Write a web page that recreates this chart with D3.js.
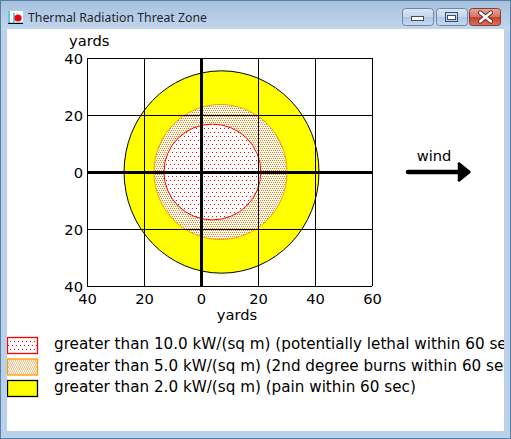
<!DOCTYPE html>
<html>
<head>
<meta charset="utf-8">
<script src="https://cdn.jsdelivr.net/npm/d3@7"></script>
<style>
  html, body { margin: 0; padding: 0; background: #fff; }
  svg { display: block; }
  text { font-family: "DejaVu Sans", Verdana, sans-serif; fill: #000; }
</style>
</head>
<body>
<svg id="chart" width="511" height="439"></svg>
<script>
// threat zones, outermost first (yards)
var zoneLabels = [
    'greater than 2.0 kW/(sq m) (pain within 60 sec)',
    'greater than 5.0 kW/(sq m) (2nd degree burns within 60 sec)',
    'greater than 10.0 kW/(sq m) (potentially lethal within 60 sec)'
];
var zoneDownwind = [41.4, 30.2, 21.0];
var zoneUpwind = [27.0, 16.5, 13.0];
var zoneCrosswind = [35.5, 23.7, 16.8];

var xTicks = [-40, -20, 0, 20, 40, 60];
var yTicks = [-40, -20, 0, 20, 40];
var xDomain = [-40, 60];
var yDomain = [-40, 40];

var svg = d3.select('#chart');
var defs = svg.append('defs');

// ---- window chrome ----
var grad = defs.append('linearGradient')
    .attr('id', 'titleGrad')
    .attr('x1', 0).attr('y1', 0).attr('x2', 0).attr('y2', 1);
grad.append('stop').attr('offset', '0%').attr('stop-color', '#a6c0df');
grad.append('stop').attr('offset', '100%').attr('stop-color', '#c3d7ec');

svg.append('rect')
    .attr('width', 511).attr('height', 439)
    .style('fill', '#b9d1ea');
svg.append('rect')
    .attr('width', 511).attr('height', 30)
    .style('fill', 'url(#titleGrad)');
svg.append('rect')
    .attr('x', 0.5).attr('y', 0.5).attr('width', 510).attr('height', 438)
    .style('fill', 'none')
    .style('stroke', '#5a7fa6')
    .style('stroke-width', 1);
svg.append('rect')
    .attr('x', 7).attr('y', 29).attr('width', 497).attr('height', 402)
    .style('fill', '#fff');

// title icon
var icon = svg.append('g').attr('transform', 'translate(8,11)');
icon.append('rect').attr('width', 15).attr('height', 13).style('fill', '#fff');
icon.append('path').attr('d', 'M1 0 V12 H15').style('stroke', '#00a0e0').style('fill', 'none').style('stroke-width', 1.2);
icon.append('path').attr('d', 'M6 2 V11').style('stroke', '#00a0e0').style('stroke-width', 1.2);
icon.append('circle').attr('cx', 10).attr('cy', 7).attr('r', 3.6).style('fill', '#f00010');
icon.append('path').attr('d', 'M0 12.5 H15').style('stroke', '#000').style('stroke-width', 1);

svg.append('text')
    .attr('x', 28).attr('y', 22)
    .text('Thermal Radiation Threat Zone')
    .style('font-family', '"Noto Sans", "Open Sans", sans-serif')
    .style('font-size', '12.3px')
    .style('fill', '#1e2530');

// caption buttons
var btnGrad = defs.append('linearGradient')
    .attr('id', 'btnGrad').attr('x1', 0).attr('y1', 0).attr('x2', 0).attr('y2', 1);
btnGrad.append('stop').attr('offset', '0%').attr('stop-color', '#dbe7f4');
btnGrad.append('stop').attr('offset', '50%').attr('stop-color', '#c4d6eb');
btnGrad.append('stop').attr('offset', '51%').attr('stop-color', '#afc6e2');
btnGrad.append('stop').attr('offset', '100%').attr('stop-color', '#c8dbef');
var closeGrad = defs.append('linearGradient')
    .attr('id', 'closeGrad').attr('x1', 0).attr('y1', 0).attr('x2', 0).attr('y2', 1);
closeGrad.append('stop').attr('offset', '0%').attr('stop-color', '#e9a99c');
closeGrad.append('stop').attr('offset', '50%').attr('stop-color', '#d7705e');
closeGrad.append('stop').attr('offset', '51%').attr('stop-color', '#c6402c');
closeGrad.append('stop').attr('offset', '100%').attr('stop-color', '#d8745a');

[[402, 'btnGrad'], [436, 'btnGrad'], [469, 'closeGrad']].forEach(function(b) {
    svg.append('rect')
        .attr('x', b[0] + 0.5).attr('y', 8.5)
        .attr('width', 31).attr('height', 17)
        .attr('rx', 3)
        .style('fill', 'url(#' + b[1] + ')')
        .style('stroke', b[1] === 'closeGrad' ? '#8a3a30' : '#6d87a8');
});
svg.append('rect').attr('x', 411.5).attr('y', 16.5).attr('width', 12).attr('height', 4)
    .style('fill', '#fff').style('stroke', '#3d4f66');
svg.append('rect').attr('x', 445.5).attr('y', 12.5).attr('width', 12).attr('height', 9)
    .style('fill', 'none').style('stroke', '#3d4f66').style('stroke-width', 1);
svg.append('rect').attr('x', 447.5).attr('y', 15.5).attr('width', 8).attr('height', 4)
    .style('fill', '#fff').style('stroke', '#3d4f66').style('stroke-width', 1);
svg.append('path').attr('d', 'M480 12.5 L491 21.5 M491 12.5 L480 21.5')
    .style('stroke', '#5a2a24').style('stroke-width', 4.2).style('stroke-linecap', 'round');
svg.append('path').attr('d', 'M480 12.5 L491 21.5 M491 12.5 L480 21.5')
    .style('stroke', '#fff').style('stroke-width', 2.4).style('stroke-linecap', 'round');

// ---- fill patterns ----
var redPat = defs.append('pattern')
    .attr('id', 'redDots').attr('patternUnits', 'userSpaceOnUse')
    .attr('width', 4).attr('height', 8);
redPat.append('rect').attr('width', 4).attr('height', 8).style('fill', '#fff');
redPat.append('rect').attr('x', 0).attr('y', 0).attr('width', 1).attr('height', 1).style('fill', '#ff0000');
redPat.append('rect').attr('x', 2).attr('y', 4).attr('width', 1).attr('height', 1).style('fill', '#ff0000');

var orangePat = defs.append('pattern')
    .attr('id', 'orangeDots').attr('patternUnits', 'userSpaceOnUse')
    .attr('width', 2).attr('height', 4);
orangePat.append('rect').attr('width', 2).attr('height', 4).style('fill', '#fff');
orangePat.append('rect').attr('x', 0).attr('y', 0).attr('width', 1).attr('height', 1).style('fill', '#f07f00');
orangePat.append('rect').attr('x', 1).attr('y', 2).attr('width', 1).attr('height', 1).style('fill', '#f07f00');

var zoneFill = ['#ffff00', 'url(#orangeDots)', 'url(#redDots)'];
var zoneStroke = ['#000', '#ff9900', '#ff0000'];

// ---- plot ----
var plot = { left: 87, right: 372, top: 58, bottom: 286 };
var x = d3.scaleLinear().domain(xDomain).range([plot.left, plot.right]);
var y = d3.scaleLinear().domain(yDomain).range([plot.bottom, plot.top]);

var zones = zoneLabels.map(function(label, i) {
    return {
        label: label,
        cx: (zoneDownwind[i] - zoneUpwind[i]) / 2,
        rx: (zoneDownwind[i] + zoneUpwind[i]) / 2,
        ry: zoneCrosswind[i],
        fill: zoneFill[i],
        stroke: zoneStroke[i]
    };
});

svg.append('g')
    .selectAll('ellipse')
    .data(zones)
    .enter()
    .append('ellipse')
    .attr('cx', function(d) { return x(d.cx); })
    .attr('cy', y(0))
    .attr('rx', function(d) { return x(d.rx) - x(0); })
    .attr('ry', function(d) { return y(0) - y(d.ry); })
    .style('fill', function(d) { return d.fill; })
    .style('stroke', function(d) { return d.stroke; })
    .style('stroke-width', 1);

// grid
var grid = svg.append('g').style('shape-rendering', 'crispEdges');
grid.selectAll('.vgrid')
    .data(xTicks)
    .enter()
    .append('line')
    .attr('x1', function(d) { return Math.round(x(d)) + 0.5; })
    .attr('x2', function(d) { return Math.round(x(d)) + 0.5; })
    .attr('y1', y(yDomain[1]))
    .attr('y2', y(yDomain[0]))
    .style('stroke', '#000')
    .style('stroke-width', function(d) { return d === 0 ? 3 : 1; });
grid.selectAll('.hgrid')
    .data(yTicks)
    .enter()
    .append('line')
    .attr('x1', x(xDomain[0]))
    .attr('x2', x(xDomain[1]))
    .attr('y1', function(d) { return Math.round(y(d)) + 0.5; })
    .attr('y2', function(d) { return Math.round(y(d)) + 0.5; })
    .style('stroke', '#000')
    .style('stroke-width', function(d) { return d === 0 ? 3 : 1; });

// tick labels via axes
var xAxis = d3.axisBottom(x)
    .tickValues(xTicks)
    .tickSize(0)
    .tickPadding(0)
    .tickFormat(function(d) { return Math.abs(d); });
var xAxisG = svg.append('g')
    .attr('transform', 'translate(0,' + plot.bottom + ')')
    .call(xAxis);
xAxisG.select('.domain').remove();
xAxisG.selectAll('text')
    .attr('y', 18)
    .attr('dy', 0)
    .style('font-size', '14.7px')
    .style('font-family', '"DejaVu Sans", Verdana, sans-serif')
    .style('fill', '#000');

var yAxis = d3.axisLeft(y)
    .tickValues(yTicks)
    .tickSize(0)
    .tickPadding(4)
    .tickFormat(function(d) { return Math.abs(d); });
var yAxisG = svg.append('g')
    .attr('transform', 'translate(' + plot.left + ',0)')
    .call(yAxis);
yAxisG.select('.domain').remove();
yAxisG.selectAll('text')
    .attr('dy', '0.36em')
    .style('font-size', '14.7px')
    .style('font-family', '"DejaVu Sans", Verdana, sans-serif')
    .style('fill', '#000');

svg.append('text')
    .attr('x', 69).attr('y', 46)
    .text('yards')
    .style('font-size', '14.7px');
svg.append('text')
    .attr('x', 237).attr('y', 320)
    .attr('text-anchor', 'middle')
    .text('yards')
    .style('font-size', '14.7px');

// wind arrow
var windY = y(0);
svg.append('text')
    .attr('x', 434).attr('y', windY - 11)
    .attr('text-anchor', 'middle')
    .text('wind')
    .style('font-size', '14.7px');
svg.append('path')
    .attr('d', 'M408 ' + windY + ' H460')
    .style('stroke', '#000')
    .style('stroke-width', 4.5)
    .style('stroke-linecap', 'round');
svg.append('path')
    .attr('d', 'M459 ' + (windY - 8.5) + ' L469.5 ' + windY + ' L459 ' + (windY + 8.5) + ' Z')
    .style('fill', '#000')
    .style('stroke', '#000')
    .style('stroke-width', 2.5)
    .style('stroke-linejoin', 'round');

// legend, innermost zone first (window edge cuts the long lines, as in the original)
var legend = svg.append('g')
    .attr('clip-path', 'url(#clientClip)');
defs.append('clipPath').attr('id', 'clientClip')
    .append('rect').attr('x', 7).attr('y', 29).attr('width', 497).attr('height', 402);

var legendItems = legend.selectAll('g')
    .data(zones.slice().reverse())
    .enter()
    .append('g')
    .attr('transform', function(d, i) { return 'translate(0,' + (337 + i * 21.5) + ')'; });
legendItems.append('rect')
    .attr('x', 7.5).attr('y', 0.5)
    .attr('width', 30).attr('height', 16)
    .style('fill', function(d) { return d.fill; })
    .style('stroke', function(d) { return d.stroke; })
    .style('stroke-width', 1.3);
legendItems.append('text')
    .attr('x', 54).attr('y', 12)
    .text(function(d) { return d.label; })
    .style('font-size', '15.2px');
</script>
</body>
</html>
